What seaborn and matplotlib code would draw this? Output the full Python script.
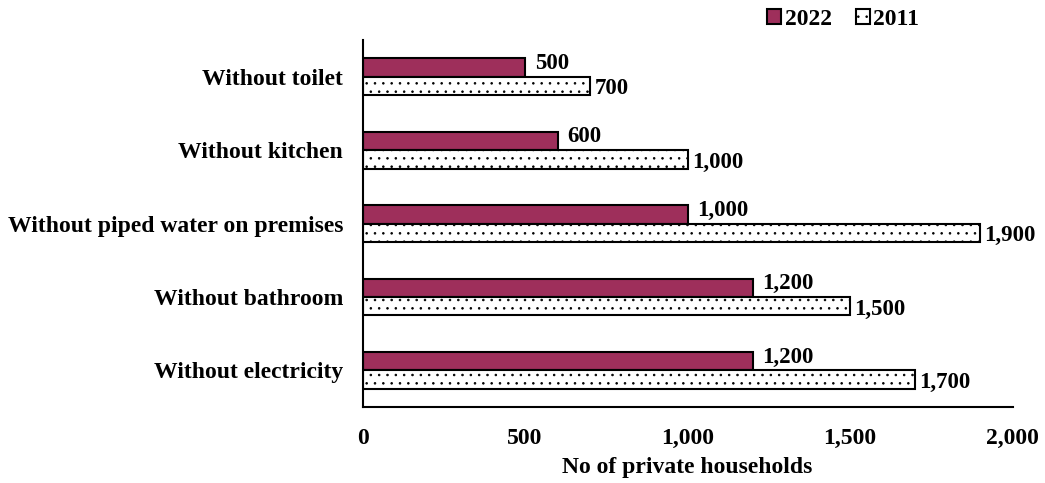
import matplotlib
matplotlib.use("Agg")
import matplotlib.pyplot as plt
import seaborn as sns
import pandas as pd
from matplotlib.patches import Patch

categories = [
    "Without toilet",
    "Without kitchen",
    "Without piped water on premises",
    "Without bathroom",
    "Without electricity",
]
values_2022 = [500, 600, 1000, 1200, 1200]
values_2011 = [700, 1000, 1900, 1500, 1700]
years = ["2022", "2011"]

MAROON = "#9E2F5B"


def main():
    sns.set_style("white")
    plt.rcParams["font.family"] = ["Liberation Serif", "DejaVu Serif"]
    plt.rcParams["font.weight"] = "bold"
    plt.rcParams["text.color"] = "black"
    plt.rcParams["xtick.color"] = "black"
    plt.rcParams["ytick.color"] = "black"
    plt.rcParams["axes.labelcolor"] = "black"
    plt.rcParams["hatch.linewidth"] = 0.6
    plt.rcParams["hatch.color"] = "#333333"

    df = pd.DataFrame({
        "category": categories * 2,
        "value": values_2022 + values_2011,
        "year": [years[0]] * len(categories) + [years[1]] * len(categories),
    })

    fig = plt.figure(figsize=(10.45, 4.83), dpi=100)
    ax = fig.add_axes([0.347, 0.157, 0.622, 0.76])

    sns.barplot(
        data=df, y="category", x="value", hue="year", orient="h",
        order=categories, hue_order=years,
        palette={"2022": MAROON, "2011": "white"}, saturation=1,
        width=0.5, gap=0, edgecolor="black", linewidth=1.5,
        legend=False, ax=ax,
    )

    # dotted fill for the 2011 bars, labels for both series
    for cont, year in zip(ax.containers, years):
        if year == "2011":
            for bar in cont:
                bar.set_hatch("..")
                bar.set_facecolor("white")
        labels = [f"{v:,.0f}" for v in cont.datavalues]
        texts = ax.bar_label(
            cont, labels=labels, padding=7 if year == "2022" else 3,
            fontsize=16.5, fontweight="bold", color="black",
        )
        # 2022 labels sit a bit high, 2011 labels a bit low
        for t in texts:
            dx, dy = t.xyann
            t.xyann = (dx, dy + (3 if year == "2022" else -2))

    ax.set_xlim(0, 2000)
    ax.set_ylim(4.5, -0.5)
    ax.set_xticks([0, 500, 1000, 1500, 2000])
    ax.set_xticklabels(["0", "500", "1,000", "1,500", "2,000"])
    ax.tick_params(axis="x", length=0, pad=15, labelsize=17)
    ax.tick_params(axis="y", length=0, pad=14, labelsize=17)
    ax.set_xlabel("No of private households", fontsize=17, fontweight="bold", labelpad=6)
    ax.set_ylabel("")

    for side in ["top", "right"]:
        ax.spines[side].set_visible(False)
    for side in ["left", "bottom"]:
        ax.spines[side].set_linewidth(1.5)
        ax.spines[side].set_color("black")

    handles = [
        Patch(facecolor=MAROON, edgecolor="black", linewidth=1.5, label="2022"),
        Patch(facecolor="white", edgecolor="black", linewidth=1.5, hatch="..", label="2011"),
    ]
    fig.legend(
        handles=handles, loc="upper right", bbox_to_anchor=(0.9, 1.025),
        ncol=2, frameon=False, fontsize=17, handlelength=0.6, handleheight=0.6,
        handletextpad=0.15, columnspacing=1.0,
    )

    fig.savefig("out.png", dpi=100)
    plt.close(fig)


if __name__ == "__main__":
    main()
